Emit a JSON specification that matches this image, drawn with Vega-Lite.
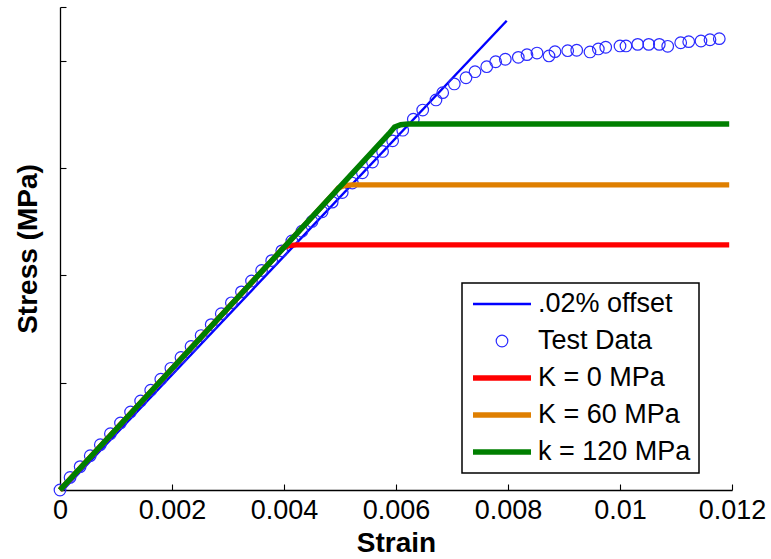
{
  "$schema": "https://vega.github.io/schema/vega-lite/v6.json",
  "width": 672,
  "height": 483,
  "autosize": {"type": "none"},
  "padding": {"left": 60, "top": 7, "right": 39, "bottom": 69},
  "background": "white",
  "config": {
    "view": {"stroke": null},
    "font": "Liberation Sans",
    "axis": {
      "grid": false,
      "domainColor": "black",
      "domainWidth": 1.3,
      "tickColor": "black",
      "tickWidth": 1.1,
      "tickSize": -6,
      "labelColor": "black",
      "labelFont": "Liberation Sans",
      "labelFontSize": 27,
      "titleColor": "black",
      "titleFont": "Liberation Sans",
      "titleFontSize": 28,
      "titleFontWeight": "bold"
    },
    "legend": {
      "orient": "none",
      "legendX": 402,
      "legendY": 276,
      "padding": 8,
      "rowPadding": 10,
      "clipHeight": 26,
      "symbolSize": 3364,
      "symbolOffset": 0,
      "labelOffset": 4,
      "labelFont": "Liberation Sans",
      "labelFontSize": 27,
      "labelColor": "black",
      "labelLimit": 300,
      "strokeColor": "black",
      "strokeWidth": 1.5,
      "fillColor": "white",
      "cornerRadius": 0
    }
  },
  "data": {
    "values": [
      {"series": ".02% offset", "strain": 0.000054, "stress": 0},
      {"series": ".02% offset", "strain": 0.007977, "stress": 437.2},

      {"series": "K = 0 MPa", "strain": 0, "stress": 0},
      {"series": "K = 0 MPa", "strain": 0.00388, "stress": 219.2},
      {"series": "K = 0 MPa", "strain": 0.00398, "stress": 225.5},
      {"series": "K = 0 MPa", "strain": 0.00409, "stress": 227.7},
      {"series": "K = 0 MPa", "strain": 0.00422, "stress": 228.3},
      {"series": "K = 0 MPa", "strain": 0.01195, "stress": 228.3},

      {"series": "K = 60 MPa", "strain": 0, "stress": 0},
      {"series": "K = 60 MPa", "strain": 0.00487, "stress": 275.2},
      {"series": "K = 60 MPa", "strain": 0.00497, "stress": 281.4},
      {"series": "K = 60 MPa", "strain": 0.00508, "stress": 283.6},
      {"series": "K = 60 MPa", "strain": 0.00521, "stress": 284.2},
      {"series": "K = 60 MPa", "strain": 0.01195, "stress": 284.2},

      {"series": "k = 120 MPa", "strain": 0, "stress": 0},
      {"series": "k = 120 MPa", "strain": 0.005875, "stress": 332.0},
      {"series": "k = 120 MPa", "strain": 0.005975, "stress": 338.2},
      {"series": "k = 120 MPa", "strain": 0.006085, "stress": 340.4},
      {"series": "k = 120 MPa", "strain": 0.006215, "stress": 341.0},
      {"series": "k = 120 MPa", "strain": 0.01195, "stress": 341.0},

      {"series": "Test Data", "strain": 0, "stress": 0},
      {"series": "Test Data", "strain": 0.00018, "stress": 11.7},
      {"series": "Test Data", "strain": 0.00036, "stress": 21.8},
      {"series": "Test Data", "strain": 0.00054, "stress": 32.0},
      {"series": "Test Data", "strain": 0.00072, "stress": 42.2},
      {"series": "Test Data", "strain": 0.0009, "stress": 52.4},
      {"series": "Test Data", "strain": 0.00108, "stress": 62.5},
      {"series": "Test Data", "strain": 0.00126, "stress": 72.7},
      {"series": "Test Data", "strain": 0.00144, "stress": 82.9},
      {"series": "Test Data", "strain": 0.00162, "stress": 93.0},
      {"series": "Test Data", "strain": 0.0018, "stress": 103.2},
      {"series": "Test Data", "strain": 0.00198, "stress": 113.4},
      {"series": "Test Data", "strain": 0.00216, "stress": 123.5},
      {"series": "Test Data", "strain": 0.00234, "stress": 133.7},
      {"series": "Test Data", "strain": 0.00252, "stress": 143.9},
      {"series": "Test Data", "strain": 0.0027, "stress": 154.1},
      {"series": "Test Data", "strain": 0.00288, "stress": 164.2},
      {"series": "Test Data", "strain": 0.00306, "stress": 174.4},
      {"series": "Test Data", "strain": 0.00324, "stress": 184.6},
      {"series": "Test Data", "strain": 0.00342, "stress": 194.7},
      {"series": "Test Data", "strain": 0.0036, "stress": 204.5},
      {"series": "Test Data", "strain": 0.00378, "stress": 213.7},
      {"series": "Test Data", "strain": 0.00396, "stress": 222.8},
      {"series": "Test Data", "strain": 0.00414, "stress": 232.0},
      {"series": "Test Data", "strain": 0.00432, "stress": 241.1},
      {"series": "Test Data", "strain": 0.0045, "stress": 250.2},
      {"series": "Test Data", "strain": 0.00468, "stress": 259.2},
      {"series": "Test Data", "strain": 0.00486, "stress": 268.2},
      {"series": "Test Data", "strain": 0.00504, "stress": 277.1},
      {"series": "Test Data", "strain": 0.00522, "stress": 286.0},
      {"series": "Test Data", "strain": 0.0054, "stress": 295.5},
      {"series": "Test Data", "strain": 0.00558, "stress": 305.5},
      {"series": "Test Data", "strain": 0.00576, "stress": 315.4},
      {"series": "Test Data", "strain": 0.00594, "stress": 325.3},
      {"series": "Test Data", "strain": 0.00612, "stress": 335.2},
      {"series": "Test Data", "strain": 0.006309, "stress": 345.4},
      {"series": "Test Data", "strain": 0.006477, "stress": 354.0},
      {"series": "Test Data", "strain": 0.006714, "stress": 363.4},
      {"series": "Test Data", "strain": 0.006834, "stress": 370.2},
      {"series": "Test Data", "strain": 0.007041, "stress": 378.3},
      {"series": "Test Data", "strain": 0.00725, "stress": 384.1},
      {"series": "Test Data", "strain": 0.007411, "stress": 389.7},
      {"series": "Test Data", "strain": 0.00762, "stress": 394.4},
      {"series": "Test Data", "strain": 0.00778, "stress": 399.0},
      {"series": "Test Data", "strain": 0.007952, "stress": 401.3},
      {"series": "Test Data", "strain": 0.008184, "stress": 403.1},
      {"series": "Test Data", "strain": 0.008339, "stress": 405.6},
      {"series": "Test Data", "strain": 0.008518, "stress": 407.1},
      {"series": "Test Data", "strain": 0.008732, "stress": 404.4},
      {"series": "Test Data", "strain": 0.008839, "stress": 408.4},
      {"series": "Test Data", "strain": 0.009066, "stress": 409.3},
      {"series": "Test Data", "strain": 0.009227, "stress": 409.7},
      {"series": "Test Data", "strain": 0.009464, "stress": 408.1},
      {"series": "Test Data", "strain": 0.009613, "stress": 410.9},
      {"series": "Test Data", "strain": 0.009745, "stress": 412.5},
      {"series": "Test Data", "strain": 0.01, "stress": 413.7},
      {"series": "Test Data", "strain": 0.010107, "stress": 413.7},
      {"series": "Test Data", "strain": 0.010316, "stress": 415.2},
      {"series": "Test Data", "strain": 0.010513, "stress": 415.2},
      {"series": "Test Data", "strain": 0.010702, "stress": 415.2},
      {"series": "Test Data", "strain": 0.010852, "stress": 413.4},
      {"series": "Test Data", "strain": 0.011084, "stress": 416.7},
      {"series": "Test Data", "strain": 0.011227, "stress": 417.7},
      {"series": "Test Data", "strain": 0.011446, "stress": 418.3},
      {"series": "Test Data", "strain": 0.011607, "stress": 419.5},
      {"series": "Test Data", "strain": 0.011773, "stress": 420.5}
    ]
  },
  "layer": [
    {
      "transform": [{"filter": "datum.series === '.02% offset'"}],
      "mark": {"type": "line"},
      "encoding": {
        "x": {
          "field": "strain",
          "type": "quantitative",
          "scale": {"domain": [0, 0.012], "nice": false, "zero": false},
          "axis": {
            "title": "Strain",
            "values": [0, 0.002, 0.004, 0.006, 0.008, 0.01, 0.012],
            "format": "~g",
            "labelFlush": false,
            "labelOverlap": false,
            "labelPadding": 13,
            "titlePadding": 6
          }
        },
        "y": {
          "field": "stress",
          "type": "quantitative",
          "scale": {"domain": [0, 450], "nice": false, "zero": false},
          "axis": {
            "title": "Stress (MPa)",
            "values": [0, 100, 200, 300, 400, 450],
            "labels": false,
            "titlePadding": 17
          }
        },
        "color": {"field": "series", "type": "nominal", "legend": {"title": null}},
        "strokeWidth": {"field": "series", "type": "nominal", "scale": {"type": "ordinal"}, "legend": {"title": null}}
      }
    },
    {
      "transform": [{"filter": "datum.series === 'Test Data'"}],
      "mark": {"type": "point", "filled": false, "size": 3364, "opacity": 1},
      "encoding": {
        "x": {"field": "strain", "type": "quantitative"},
        "y": {"field": "stress", "type": "quantitative"},
        "color": {
          "field": "series",
          "type": "nominal",
          "scale": {
            "domain": [".02% offset", "Test Data", "K = 0 MPa", "K = 60 MPa", "k = 120 MPa"],
            "range": ["#0000ff", "#2a2aff", "#ff0000", "#df7f00", "#007f00"]
          },
          "legend": {"title": null}
        },
        "shape": {
          "field": "series",
          "type": "nominal",
          "scale": {
            "domain": [".02% offset", "Test Data", "K = 0 MPa", "K = 60 MPa", "k = 120 MPa"],
            "range": [
              "M-1,0H1",
              "M-0.2,0a0.2,0.2 0 1,0 0.4,0a0.2,0.2 0 1,0 -0.4,0Z",
              "M-1,0H1",
              "M-1,0H1",
              "M-1,0H1"
            ]
          },
          "legend": {"title": null}
        },
        "strokeWidth": {
          "field": "series",
          "type": "nominal",
          "scale": {
            "type": "ordinal",
            "domain": [".02% offset", "Test Data", "K = 0 MPa", "K = 60 MPa", "k = 120 MPa"],
            "range": [2.4, 1.2, 5.3, 5.3, 5.5]
          },
          "legend": {"title": null}
        }
      }
    },
    {
      "transform": [{"filter": "datum.series === 'K = 0 MPa'"}],
      "mark": {"type": "line"},
      "encoding": {
        "x": {"field": "strain", "type": "quantitative"},
        "y": {"field": "stress", "type": "quantitative"},
        "color": {"field": "series", "type": "nominal", "legend": {"title": null}},
        "strokeWidth": {"field": "series", "type": "nominal", "scale": {"type": "ordinal"}, "legend": {"title": null}}
      }
    },
    {
      "transform": [{"filter": "datum.series === 'K = 60 MPa'"}],
      "mark": {"type": "line"},
      "encoding": {
        "x": {"field": "strain", "type": "quantitative"},
        "y": {"field": "stress", "type": "quantitative"},
        "color": {"field": "series", "type": "nominal", "legend": {"title": null}},
        "strokeWidth": {"field": "series", "type": "nominal", "scale": {"type": "ordinal"}, "legend": {"title": null}}
      }
    },
    {
      "transform": [{"filter": "datum.series === 'k = 120 MPa'"}],
      "mark": {"type": "line"},
      "encoding": {
        "x": {"field": "strain", "type": "quantitative"},
        "y": {"field": "stress", "type": "quantitative"},
        "color": {"field": "series", "type": "nominal", "legend": {"title": null}},
        "strokeWidth": {"field": "series", "type": "nominal", "scale": {"type": "ordinal"}, "legend": {"title": null}}
      }
    }
  ]
}
